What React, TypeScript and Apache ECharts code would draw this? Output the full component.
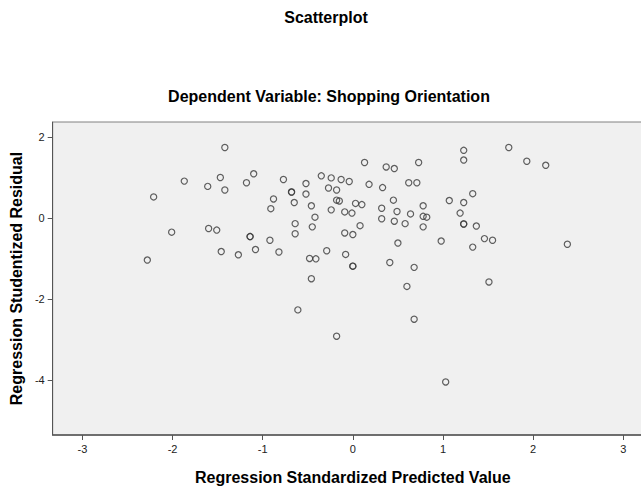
import React, { useEffect, useRef } from "react";
import * as echarts from "echarts";

const predicted: number[] = [
  -1.42, -1.87, -2.21, -1.47, -1.61, -1.42, -1.18, -1.10, -2.01, -1.60,
  -1.51, -1.14, -1.14, -1.08, -1.46, -1.27, -2.28, -0.77, -0.68, -0.68,
  -0.52, -0.52, -0.88, -0.91, -0.65, -0.46, -0.42, -0.64, -0.64, -0.45,
  -0.35, -0.24, -0.13, -0.04, -0.27, -0.18, -0.18, -0.15, -0.24, -0.09,
  -0.01, 0.03, 0.10, 0.08, -0.09, 0.00, -0.92, -0.82, -0.29, -0.08,
  -0.48, -0.41, 0.00, 0.00, -0.46, 0.13, 0.37, 0.46, 0.73, 0.18,
  0.33, 0.62, 0.71, 0.45, 0.32, 0.49, 0.32, 0.46, 0.58, 0.64,
  0.78, 0.78, 0.82, 0.78, 1.07, 0.50, 0.98, 0.41, 0.68, 0.60,
  1.23, 1.23, 1.73, 1.93, 2.14, 1.33, 1.23, 1.19, 1.23, 1.23,
  1.37, 1.46, 1.55, 1.33, 2.38, 1.51, -0.61, -0.18, 0.68, 1.03,
];

const residual: number[] = [
  1.74, 0.91, 0.52, 1.00, 0.78, 0.69, 0.87, 1.09, -0.35, -0.26,
  -0.30, -0.46, -0.46, -0.78, -0.83, -0.91, -1.04, 0.95, 0.64, 0.64,
  0.85, 0.59, 0.47, 0.23, 0.38, 0.30, 0.02, -0.14, -0.39, -0.22,
  1.04, 0.99, 0.95, 0.90, 0.74, 0.69, 0.44, 0.42, 0.20, 0.15,
  0.12, 0.36, 0.33, -0.19, -0.37, -0.41, -0.55, -0.84, -0.81, -0.90,
  -1.00, -1.01, -1.19, -1.19, -1.50, 1.37, 1.26, 1.22, 1.37, 0.83,
  0.75, 0.87, 0.87, 0.44, 0.24, 0.16, -0.02, -0.08, -0.14, 0.10,
  0.30, 0.04, 0.02, -0.22, 0.43, -0.62, -0.57, -1.10, -1.22, -1.69,
  1.67, 1.43, 1.74, 1.40, 1.30, 0.60, 0.38, 0.12, -0.15, -0.15,
  -0.20, -0.51, -0.55, -0.72, -0.65, -1.58, -2.27, -2.92, -2.50, -4.05,
];

const xTicks: number[] = [-3, -2, -1, 0, 1, 2, 3];
const yTicks: number[] = [-4, -2, 0, 2];

const mainTitle = "Scatterplot";
const subTitle = "Dependent Variable: Shopping Orientation";
const xTitle = "Regression Standardized Predicted Value";
const yTitle = "Regression Studentized Residual";

const FONT = "'Liberation Sans', Arial, sans-serif";

export default function App() {
  const ref = useRef<HTMLDivElement>(null);

  useEffect(() => {
    if (!ref.current) return;
    const chart = echarts.init(ref.current, undefined, { renderer: "svg" });
    const points = predicted.map((x, i) => [x, residual[i]]);
    chart.setOption({
      animation: false,
      backgroundColor: "#ffffff",
      textStyle: { fontFamily: FONT },
      graphic: [
        {
          type: "text",
          x: 326,
          y: 17,
          style: {
            text: mainTitle,
            fill: "#000",
            font: `bold 16px ${FONT}`,
            textAlign: "center",
            textVerticalAlign: "middle",
          },
        },
        {
          type: "text",
          x: 329,
          y: 96,
          style: {
            text: subTitle,
            fill: "#000",
            font: `bold 16px ${FONT}`,
            textAlign: "center",
            textVerticalAlign: "middle",
          },
        },
      ],
      grid: {
        left: 52,
        top: 122,
        right: 0,
        bottom: 52,
        show: true,
        backgroundColor: "#f0f0f0",
        borderColor: "#808080",
        borderWidth: 1,
        containLabel: false,
      },
      xAxis: {
        type: "value",
        min: -3.33,
        max: 3.33,
        name: xTitle,
        nameLocation: "middle",
        nameGap: 34,
        nameTextStyle: { fontFamily: FONT, fontWeight: "bold", fontSize: 16, color: "#000" },
        axisLine: { show: true, onZero: false, lineStyle: { color: "#555", width: 1.5 } },
        axisTick: { show: true, inside: false, length: 5, customValues: xTicks, lineStyle: { color: "#555" } },
        axisLabel: { customValues: xTicks, fontFamily: FONT, fontSize: 11, color: "#222", margin: 8 },
        splitLine: { show: false },
      },
      yAxis: {
        type: "value",
        min: -5.36,
        max: 2.37,
        name: yTitle,
        nameLocation: "middle",
        nameGap: 21,
        nameTextStyle: { fontFamily: FONT, fontWeight: "bold", fontSize: 16, color: "#000" },
        axisLine: { show: true, onZero: false, lineStyle: { color: "#555", width: 1 } },
        axisTick: { show: true, inside: false, length: 5, customValues: yTicks, lineStyle: { color: "#555" } },
        axisLabel: { customValues: yTicks, fontFamily: FONT, fontSize: 11, color: "#222", margin: 8 },
        splitLine: { show: false },
      },
      series: [
        {
          type: "scatter",
          data: points,
          symbol: "circle",
          symbolSize: 6.2,
          itemStyle: { color: "rgba(0,0,0,0)", borderColor: "#3a3a3a", borderWidth: 1.2 },
          emphasis: { disabled: true },
        },
      ],
    });
    return () => chart.dispose();
  }, []);

  return (
    <div
      style={{
        position: "absolute",
        left: 0,
        top: 0,
        width: 641,
        height: 490,
        overflow: "hidden",
      }}
    >
      <div ref={ref} style={{ width: 653, height: 490 }} />
    </div>
  );
}
